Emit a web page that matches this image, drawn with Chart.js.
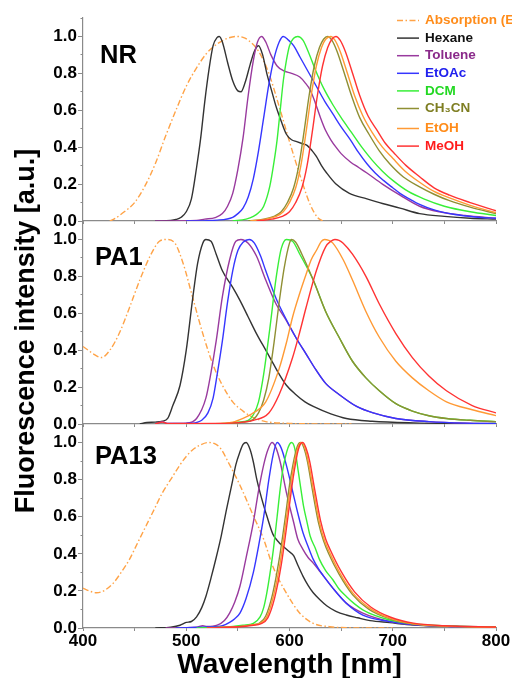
<!DOCTYPE html>
<html><head><meta charset="utf-8">
<script src="https://cdn.jsdelivr.net/npm/chart.js@4.4.1/dist/chart.umd.min.js"></script>
<style>
html,body{margin:0;padding:0;background:#fff;overflow:hidden}
#wrap{position:relative;width:512px;height:678px}
#wrap canvas{position:absolute;left:0;top:0}
</style></head><body>
<div id="wrap">
<canvas id="c1" width="512" height="678"></canvas>
<canvas id="c2" width="512" height="678"></canvas>
<canvas id="c3" width="512" height="678"></canvas>
</div>
<script>
// ---------- data (wavelength nm, normalised intensity) ----------
const panelNames = ['NR', 'PA1', 'PA13'];
const seriesLabels = ['Absorption (EtOH)', 'Hexane', 'Toluene', 'EtOAc', 'DCM', 'CH\u2083CN', 'EtOH', 'MeOH'];
const xTickValues = [400, 500, 600, 700, 800];
const yTickValues = [0.0, 0.2, 0.4, 0.6, 0.8, 1.0];
const xTitle = 'Wavelength [nm]';
const yTitle = 'Fluorescence intensity [a.u.]';

// NR
const nrAbs = [[426,0],[430,0.01],[440,0.05],[450,0.1],[460,0.19],[470,0.31],[480,0.46],[490,0.6],[500,0.73],[510,0.83],[520,0.91],[530,0.96],[540,0.99],[548,1.0],[555,0.995],[560,0.98],[570,0.92],[580,0.8],[590,0.62],[600,0.43],[610,0.25],[620,0.09],[627,0.02],[632,0]];
const nrHexane = [[470,0],[485,0.003],[490,0.008],[495,0.02],[500,0.05],[505,0.12],[510,0.29],[514,0.45],[518,0.65],[522,0.82],[526,0.95],[530,0.995],[532,1.0],[535,0.97],[540,0.86],[545,0.76],[550,0.705],[553,0.70],[557,0.75],[562,0.85],[566,0.92],[570,0.95],[574,0.9],[578,0.8],[583,0.7],[587,0.62],[592,0.54],[597,0.47],[602,0.44],[607,0.43],[612,0.42],[617,0.41],[622,0.38],[626,0.35],[631,0.3],[636,0.26],[645,0.2],[658,0.15],[675,0.12],[690,0.095],[707,0.07],[726,0.04],[750,0.025],[775,0.015],[800,0.01]];
const nrToluene = [[470,0],[510,0.003],[518,0.01],[528,0.018],[535,0.04],[540,0.08],[545,0.15],[550,0.28],[555,0.45],[560,0.68],[565,0.87],[569,0.97],[573,1.0],[577,0.97],[582,0.9],[588,0.84],[594,0.815],[602,0.8],[610,0.78],[615,0.75],[620,0.71],[625,0.64],[630,0.56],[635,0.49],[640,0.44],[645,0.4],[650,0.365],[659,0.32],[667,0.29],[675,0.26],[690,0.2],[707,0.14],[726,0.08],[745,0.05],[770,0.03],[800,0.015]];
const nrEtOAc = [[500,0],[530,0.005],[545,0.02],[550,0.04],[555,0.07],[560,0.13],[565,0.23],[570,0.38],[575,0.56],[580,0.74],[585,0.88],[590,0.97],[594,1.0],[599,0.98],[604,0.95],[610,0.89],[618,0.81],[626,0.73],[634,0.65],[642,0.58],[650,0.51],[659,0.44],[667,0.37],[675,0.31],[683,0.26],[691,0.22],[700,0.18],[707,0.15],[716,0.12],[726,0.09],[740,0.06],[760,0.035],[780,0.022],[800,0.015]];
const nrDCM = [[545,0],[558,0.01],[565,0.025],[570,0.045],[575,0.08],[581,0.19],[585,0.32],[588,0.44],[591,0.6],[594,0.76],[597,0.87],[600,0.95],[604,0.99],[608,1.0],[613,0.98],[618,0.92],[625,0.82],[633,0.72],[642,0.63],[650,0.56],[660,0.48],[670,0.4],[680,0.33],[690,0.27],[700,0.22],[715,0.16],[730,0.12],[750,0.08],[775,0.05],[800,0.03]];
const nrCH3CN = [[560,0],[575,0.01],[585,0.025],[592,0.05],[598,0.1],[604,0.18],[609,0.3],[614,0.48],[619,0.68],[624,0.84],[629,0.94],[633,0.985],[637,1.0],[641,0.98],[646,0.92],[652,0.82],[660,0.68],[668,0.56],[677,0.47],[687,0.38],[697,0.31],[710,0.24],[726,0.185],[740,0.145],[755,0.11],[775,0.075],[800,0.04]];
const nrEtOH = [[562,0],[577,0.01],[587,0.025],[594,0.05],[600,0.1],[606,0.18],[611,0.3],[616,0.48],[621,0.68],[626,0.84],[631,0.94],[635,0.985],[640,1.0],[644,0.98],[649,0.92],[655,0.82],[663,0.68],[671,0.57],[680,0.48],[690,0.4],[700,0.34],[712,0.27],[726,0.21],[740,0.16],[755,0.125],[775,0.085],[800,0.045]];
const nrMeOH = [[568,0],[583,0.01],[593,0.025],[600,0.05],[606,0.1],[612,0.18],[617,0.3],[622,0.48],[627,0.68],[632,0.84],[637,0.94],[641,0.985],[645,1.0],[649,0.98],[654,0.92],[660,0.82],[668,0.68],[676,0.57],[685,0.49],[693,0.42],[701,0.37],[713,0.3],[726,0.24],[740,0.18],[755,0.14],[775,0.1],[800,0.055]];

// PA1
const pa1Abs = [[400,0.42],[405,0.4],[410,0.38],[418,0.36],[426,0.4],[435,0.49],[445,0.63],[455,0.78],[465,0.91],[474,0.99],[481,1.0],[489,0.98],[497,0.87],[506,0.69],[516,0.49],[526,0.32],[535,0.21],[545,0.12],[555,0.07],[565,0.035],[577,0.013],[597,0.004],[620,0.001],[660,0]];
const pa1Hexane = [[455,0],[462,0.008],[470,0.01],[477,0.015],[482,0.03],[487,0.1],[494,0.21],[500,0.4],[506,0.67],[511,0.87],[516,0.98],[519,1.0],[524,0.99],[529,0.92],[535,0.83],[545,0.74],[552,0.67],[560,0.58],[568,0.49],[577,0.4],[584,0.33],[590,0.27],[597,0.21],[606,0.16],[615,0.12],[623,0.095],[640,0.055],[655,0.03],[680,0.015],[720,0.006],[760,0.003],[800,0.002]];
const pa1Toluene = [[470,0],[477,0.012],[482,0.004],[500,0.005],[510,0.03],[519,0.14],[524,0.28],[529,0.45],[535,0.69],[542,0.89],[548,0.99],[553,1.0],[560,0.98],[568,0.91],[577,0.78],[587,0.65],[597,0.56],[606,0.47],[616,0.38],[626,0.29],[635,0.22],[648,0.16],[665,0.095],[681,0.06],[703,0.03],[735,0.013],[770,0.005],[800,0.003]];
const pa1EtOAc = [[480,0],[505,0.004],[515,0.02],[521,0.06],[526,0.14],[530,0.27],[535,0.45],[540,0.66],[545,0.83],[550,0.94],[555,0.985],[561,1.0],[566,0.98],[572,0.91],[577,0.83],[587,0.68],[597,0.565],[606,0.47],[616,0.38],[626,0.29],[635,0.22],[648,0.16],[665,0.095],[681,0.06],[703,0.03],[735,0.013],[770,0.005],[800,0.003]];
const pa1DCM = [[530,0],[550,0.01],[560,0.02],[565,0.05],[570,0.12],[575,0.27],[581,0.52],[587,0.79],[592,0.95],[597,1.0],[603,0.99],[610,0.92],[623,0.78],[635,0.61],[648,0.47],[661,0.34],[674,0.25],[687,0.18],[703,0.11],[719,0.07],[735,0.045],[752,0.03],[775,0.02],[800,0.013]];
const pa1CH3CN = [[535,0],[555,0.01],[565,0.025],[570,0.06],[575,0.13],[580,0.25],[585,0.44],[590,0.66],[595,0.85],[600,0.98],[602,1.0],[606,0.985],[612,0.92],[623,0.78],[635,0.61],[648,0.47],[661,0.34],[674,0.25],[687,0.18],[703,0.11],[719,0.07],[735,0.045],[752,0.03],[775,0.02],[800,0.013]];
const pa1EtOH = [[520,0],[545,0.01],[555,0.03],[565,0.06],[577,0.12],[590,0.3],[597,0.44],[603,0.58],[610,0.71],[616,0.81],[621,0.89],[626,0.94],[631,0.99],[634,1.0],[638,0.995],[642,0.98],[652,0.89],[661,0.78],[674,0.61],[687,0.47],[703,0.34],[719,0.25],[735,0.18],[752,0.12],[777,0.077],[800,0.045]];
const pa1MeOH = [[470,0],[477,0.01],[482,0.002],[530,0.003],[555,0.01],[565,0.02],[580,0.06],[590,0.16],[603,0.36],[610,0.5],[616,0.63],[626,0.83],[635,0.96],[640,0.99],[644,1.0],[648,0.995],[652,0.98],[661,0.92],[674,0.8],[687,0.65],[703,0.49],[719,0.36],[735,0.26],[752,0.18],[777,0.1],[800,0.06]];

// PA13
const pa13Abs = [[400,0.215],[406,0.2],[413,0.19],[420,0.2],[429,0.24],[437,0.3],[445,0.37],[453,0.46],[461,0.55],[469,0.64],[477,0.73],[486,0.81],[494,0.88],[500,0.925],[506,0.96],[513,0.985],[521,1.0],[527,0.995],[533,0.97],[542,0.88],[552,0.77],[565,0.605],[575,0.478],[584,0.33],[597,0.188],[610,0.08],[623,0.025],[639,0.007],[660,0.001],[700,0]];
const pa13Hexane = [[470,0],[485,0.005],[494,0.015],[500,0.03],[505,0.035],[510,0.06],[515,0.11],[519,0.17],[524,0.27],[529,0.38],[534,0.5],[539,0.64],[544,0.77],[548,0.88],[552,0.95],[555,0.99],[558,1.0],[562,0.96],[565,0.895],[568,0.81],[571.5,0.73],[575,0.66],[578,0.605],[584,0.505],[590,0.46],[594,0.44],[599,0.415],[604,0.39],[608,0.34],[613,0.28],[618,0.23],[623,0.19],[630,0.15],[636,0.12],[645,0.09],[655,0.07],[666,0.055],[678,0.04],[697,0.029],[720,0.016],[750,0.01],[800,0.005]];
const pa13Toluene = [[480,0],[510,0.005],[516,0.012],[520,0.008],[530,0.015],[537,0.04],[542,0.08],[547,0.14],[552,0.225],[558,0.38],[565,0.57],[570,0.74],[575,0.88],[579,0.96],[583,1.0],[587,0.97],[591,0.895],[597,0.73],[604,0.57],[608,0.48],[613,0.424],[618,0.38],[623,0.35],[628,0.315],[633,0.28],[642,0.215],[655,0.134],[671,0.08],[697,0.035],[720,0.018],[760,0.008],[800,0.004]];
const pa13EtOAc = [[490,0],[520,0.005],[535,0.012],[542,0.03],[547,0.05],[552,0.08],[558,0.16],[565,0.3],[570,0.44],[575,0.6],[580,0.8],[584,0.93],[588,1.0],[592,0.97],[597,0.877],[604,0.714],[608,0.62],[613,0.515],[618,0.44],[623,0.37],[628,0.32],[633,0.28],[642,0.215],[655,0.134],[671,0.07],[697,0.035],[720,0.018],[760,0.008],[800,0.004]];
const pa13DCM = [[510,0],[540,0.005],[555,0.015],[565,0.025],[571.5,0.06],[575,0.11],[578,0.188],[581,0.29],[584.4,0.424],[588,0.6],[591,0.75],[594,0.87],[597.3,0.95],[600,0.99],[602,1.0],[605,0.97],[608.6,0.84],[611,0.75],[613.5,0.66],[617,0.57],[620,0.496],[625,0.43],[629,0.37],[635,0.31],[642,0.26],[648,0.21],[655,0.17],[663,0.13],[671,0.098],[684,0.065],[697,0.043],[720,0.022],[760,0.01],[800,0.005]];
const pa13CH3CN = [[520,0],[555,0.01],[565,0.018],[571,0.027],[577,0.065],[583.5,0.18],[590,0.37],[596.5,0.62],[600,0.77],[603,0.87],[606,0.95],[609,0.995],[611,1.0],[614,0.97],[617.5,0.895],[622,0.75],[628,0.57],[633,0.47],[638,0.4],[648,0.29],[661,0.18],[677,0.1],[697,0.05],[720,0.021],[750,0.01],[800,0.004]];
const pa13EtOH = [[520,0],[555,0.01],[565,0.018],[571.5,0.025],[578,0.06],[584.4,0.17],[590.9,0.35],[597.3,0.605],[601,0.76],[603.8,0.86],[607,0.95],[610,0.995],[612,1.0],[615,0.97],[618.3,0.895],[623,0.75],[629,0.57],[634,0.47],[639,0.405],[648.7,0.297],[661.4,0.188],[677.6,0.107],[697,0.053],[720,0.022],[750,0.01],[800,0.004]];
const pa13MeOH = [[520,0],[555,0.008],[565,0.015],[572,0.022],[579,0.055],[585.5,0.16],[592,0.34],[598.5,0.6],[602,0.75],[605,0.86],[608,0.95],[611,0.995],[613,1.0],[616,0.97],[619.5,0.9],[624,0.76],[630,0.58],[635,0.48],[640,0.415],[650,0.305],[663,0.195],[679,0.112],[698,0.058],[720,0.026],[750,0.012],[800,0.005]];

// ---------- styles ----------
const lineColors = ['#ffa347', '#333333', '#993a9e', '#3636ff', '#38ef38', '#8f8f33', '#ff9a35', '#ff3333'];
const textColors = ['#ff8c1a', '#111111', '#8a2a8a', '#2121ee', '#22d822', '#7e7e22', '#ff8c1a', '#ff1c1c'];
const FONT = '"Liberation Sans", Arial, Helvetica, sans-serif';
Chart.defaults.font.family = FONT;

const panelSeries = [
  [nrAbs, nrHexane, nrToluene, nrEtOAc, nrDCM, nrCH3CN, nrEtOH, nrMeOH],
  [pa1Abs, pa1Hexane, pa1Toluene, pa1EtOAc, pa1DCM, pa1CH3CN, pa1EtOH, pa1MeOH],
  [pa13Abs, pa13Hexane, pa13Toluene, pa13EtOAc, pa13DCM, pa13CH3CN, pa13EtOH, pa13MeOH]
];

// ---------- plugins ----------
const panelLabelPlugin = {
  id: 'panelLabel',
  afterDraw(chart, args, opts) {
    const ctx = chart.ctx;
    ctx.save();
    ctx.font = 'bold 25.5px ' + FONT;
    ctx.fillStyle = '#000';
    ctx.textAlign = 'left';
    ctx.textBaseline = 'alphabetic';
    ctx.fillText(opts.text, chart.chartArea.left + opts.dx, chart.chartArea.top + opts.dy);
    ctx.restore();
  }
};

const legendPlugin = {
  id: 'sideLegend',
  afterDraw(chart, args, opts) {
    if (!opts.show) return;
    const ctx = chart.ctx;
    ctx.save();
    ctx.font = 'bold 13.5px ' + FONT;
    ctx.textBaseline = 'middle';
    ctx.textAlign = 'left';
    chart.data.datasets.forEach((ds, i) => {
      const y = 20.5 + i * 17.6 + (i >= 6 ? 2.4 : 0);
      ctx.beginPath();
      ctx.setLineDash(ds.borderDash || []);
      ctx.strokeStyle = ds.borderColor;
      ctx.lineWidth = 1.5;
      ctx.moveTo(397, y);
      ctx.lineTo(419, y);
      ctx.stroke();
      ctx.setLineDash([]);
      ctx.fillStyle = textColors[i];
      ctx.fillText(ds.label, 425, y);
    });
    ctx.restore();
  }
};

const yTitlePlugin = {
  id: 'yTitle',
  afterDraw(chart, args, opts) {
    if (!opts.show) return;
    const ctx = chart.ctx;
    ctx.save();
    ctx.translate(33.5, 331);
    ctx.rotate(-Math.PI / 2);
    ctx.font = 'bold 27px ' + FONT;
    ctx.fillStyle = '#000';
    ctx.textAlign = 'center';
    ctx.textBaseline = 'alphabetic';
    ctx.fillText(yTitle, 0, 0);
    ctx.restore();
  }
};

// ---------- charts ----------
const panelLayout = [
  {top: 18, bottom: 454, xh: 3, dx: 17, dy: 45},
  {top: 221, bottom: 251, xh: 3, dx: 12, dy: 43.5},
  {top: 424, bottom: 0, xh: 50, dx: 12, dy: 40}
];

function buildChart(canvasId, p) {
  const isBottom = p === 2;
  const L = panelLayout[p];
  const datasets = panelSeries[p].map((arr, i) => ({
    label: seriesLabels[i],
    data: arr,
    borderColor: lineColors[i],
    backgroundColor: lineColors[i],
    borderWidth: 1.4,
    borderDash: i === 0 ? [6, 2.5, 1.5, 2.5] : [],
    pointRadius: 0,
    cubicInterpolationMode: 'monotone',
    fill: false,
    order: seriesLabels.length - i,
    yAxisID: 'y'
  }));
  const tickFont = {family: FONT, size: 17, weight: 'bold'};
  return new Chart(document.getElementById(canvasId), {
    type: 'line',
    data: {datasets},
    options: {
      responsive: false,
      animation: false,
      devicePixelRatio: 1,
      layout: {padding: {top: L.top, bottom: L.bottom, left: 0, right: 16}},
      plugins: {
        legend: {display: false},
        tooltip: {enabled: false},
        panelLabel: {text: panelNames[p], dx: L.dx, dy: L.dy},
        sideLegend: {show: p === 0},
        yTitle: {show: isBottom}
      },
      scales: {
        x: {
          type: 'linear', position: 'bottom', min: 400, max: 800,
          afterFit: s => { s.height = L.xh; },
          ticks: {
            display: isBottom, stepSize: 50, autoSkip: false, maxRotation: 0, minRotation: 0,
            callback: v => (xTickValues.includes(v) ? String(v) : ''),
            font: tickFont, color: '#000', padding: 0
          },
          grid: {drawOnChartArea: false, drawTicks: true, tickLength: 3, tickColor: '#8a8a8a', tickWidth: 1},
          border: {display: true, color: '#8a8a8a', width: 1.2},
          title: {
            display: isBottom, text: xTitle, color: '#000',
            font: {family: FONT, size: 28, weight: 'bold', lineHeight: 0.9},
            padding: {top: 0, bottom: 0}
          }
        },
        y: {
          type: 'linear', position: 'left', min: 0, max: 1.1, weight: 1,
          afterFit: s => { s.width = 83; },
          ticks: {
            stepSize: 0.2, includeBounds: false,
            callback: v => (yTickValues.some(t => Math.abs(t - v) < 1e-6) ? v.toFixed(1) : ''),
            font: tickFont, color: '#000', padding: 1
          },
          grid: {drawOnChartArea: false, drawTicks: true, tickLength: 5, tickColor: '#8a8a8a', tickWidth: 1},
          border: {display: true, color: '#8a8a8a', width: 1.2}
        },
        yMinor: {
          type: 'linear', position: 'left', min: 0, max: 1.1, weight: 0,
          afterFit: s => { s.width = 0; },
          ticks: {display: false, stepSize: 0.1},
          grid: {drawOnChartArea: false, drawTicks: true, tickLength: 2.5, tickColor: '#8a8a8a', tickWidth: 1},
          border: {display: false}
        }
      }
    },
    plugins: [panelLabelPlugin, legendPlugin, yTitlePlugin]
  });
}

buildChart('c1', 0);
buildChart('c2', 1);
buildChart('c3', 2);
</script>
</body></html>
